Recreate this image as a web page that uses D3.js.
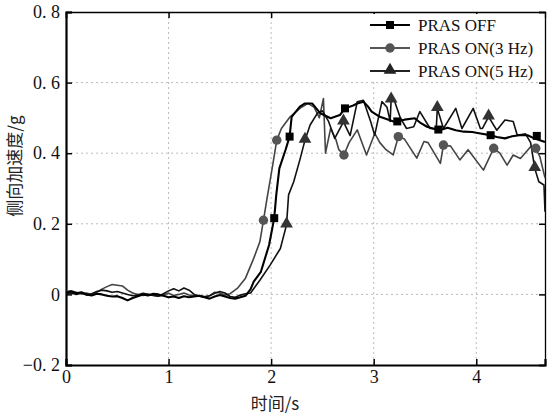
<!DOCTYPE html>
<html lang="zh">
<head>
<meta charset="utf-8">
<title>侧向加速度</title>
<script src="https://d3js.org/d3.v7.min.js"></script>
<style>
  body { margin: 0; background: #fff; }
  text { font-family: "Liberation Serif", "DejaVu Serif", serif; }
</style>
</head>
<body>
<script>
// axis settings
var xTicks = [0, 1, 2, 3, 4];
var yTicks = [-0.2, 0, 0.2, 0.4, 0.6, 0.8];
var yTickLabels = ["\u22120. 2", "0", "0. 2", "0. 4", "0. 6", "0. 8"];
var seriesNames = ["PRAS OFF", "PRAS ON(3 Hz)", "PRAS ON(5 Hz)"];

// PRAS OFF  [time s, accel g]
var offData = [[0,0.005],[0.05,0.008],[0.1,0.003],[0.15,0.006],[0.2,0.0],[0.25,-0.003],[0.3,0.002],[0.35,0.0],
  [0.4,-0.004],[0.45,-0.006],[0.5,-0.005],[0.55,-0.01],[0.6,-0.017],[0.65,-0.01],[0.7,-0.005],[0.75,0.0],
  [0.8,-0.003],[0.85,0.002],[0.9,0.0],[0.95,-0.004],[1.0,-0.008],[1.05,-0.006],[1.1,-0.01],[1.15,-0.005],
  [1.2,-0.008],[1.25,-0.006],[1.3,-0.004],[1.35,-0.008],[1.4,-0.012],[1.45,-0.006],[1.5,-0.002],[1.55,-0.006],
  [1.6,-0.01],[1.65,-0.012],[1.7,-0.008],[1.75,-0.004],[1.8,0.015],[1.83,0.036],[1.9,0.064],[1.98,0.14],
  [2.03,0.216],[2.05,0.282],[2.08,0.357],[2.14,0.409],[2.18,0.447],[2.2,0.503],[2.28,0.532],[2.33,0.541],
  [2.4,0.541],[2.48,0.513],[2.58,0.499],[2.67,0.508],[2.72,0.527],[2.8,0.535],[2.84,0.541],[2.9,0.546],
  [2.95,0.53],[2.98,0.518],[3.06,0.503],[3.11,0.498],[3.2,0.489],[3.3,0.495],[3.4,0.499],[3.46,0.485],
  [3.52,0.475],[3.6,0.468],[3.65,0.466],[3.72,0.472],[3.8,0.465],[3.88,0.461],[3.96,0.46],[4.04,0.456],
  [4.12,0.452],[4.2,0.446],[4.28,0.442],[4.35,0.448],[4.42,0.451],[4.5,0.451],[4.55,0.444],[4.62,0.437],[4.67,0.432]];
var offMarks = [[2.03,0.216],[2.18,0.447],[2.72,0.527],[3.23,0.49],[3.63,0.467],[4.14,0.451],[4.59,0.449]];

// PRAS ON (3 Hz)
var on3Data = [[0,0.008],[0.05,0.01],[0.1,0.006],[0.15,0.002],[0.2,0.004],[0.25,0.0],[0.3,0.006],[0.35,0.015],
  [0.4,0.022],[0.45,0.028],[0.5,0.026],[0.55,0.024],[0.6,0.012],[0.65,0.004],[0.7,0.0],[0.75,-0.003],
  [0.8,0.0],[0.85,-0.002],[0.9,-0.005],[0.95,-0.002],[1.0,0.003],[1.05,-0.003],[1.1,0.0],[1.15,0.004],
  [1.2,-0.002],[1.25,-0.004],[1.3,-0.003],[1.35,-0.006],[1.4,-0.004],[1.45,0.006],[1.5,0.004],[1.55,-0.002],
  [1.6,0.002],[1.67,0.017],[1.75,0.046],[1.83,0.102],[1.89,0.149],[1.925,0.21],[1.96,0.272],[2.01,0.357],
  [2.055,0.437],[2.1,0.47],[2.185,0.503],[2.28,0.527],[2.36,0.541],[2.42,0.53],[2.47,0.5],[2.51,0.555],
  [2.53,0.4],[2.58,0.47],[2.63,0.44],[2.66,0.41],[2.71,0.395],[2.76,0.43],[2.84,0.466],[2.93,0.395],
  [3.01,0.456],[3.06,0.43],[3.12,0.41],[3.19,0.395],[3.24,0.447],[3.3,0.44],[3.42,0.386],[3.49,0.433],
  [3.53,0.43],[3.65,0.371],[3.68,0.423],[3.75,0.42],[3.84,0.381],[3.92,0.41],[4.07,0.352],[4.17,0.414],
  [4.23,0.4],[4.3,0.366],[4.36,0.395],[4.43,0.385],[4.53,0.418],[4.58,0.414],[4.62,0.39],[4.67,0.33]];
var on3Marks = [[1.925,0.21],[2.055,0.437],[2.71,0.395],[3.24,0.447],[3.68,0.423],[4.17,0.414],[4.58,0.414]];

// PRAS ON (5 Hz)
var on5Data = [[0,0.002],[0.05,0.004],[0.1,0.0],[0.15,0.003],[0.2,-0.002],[0.25,0.002],[0.3,0.008],[0.35,0.012],
  [0.4,0.01],[0.45,0.006],[0.5,0.008],[0.55,0.004],[0.6,0.0],[0.65,-0.004],[0.7,-0.002],[0.75,0.003],
  [0.8,0.0],[0.85,-0.003],[0.9,-0.005],[0.95,0.002],[1.0,0.01],[1.05,0.016],[1.1,0.01],[1.15,0.018],
  [1.2,0.012],[1.25,0.0],[1.3,-0.005],[1.35,-0.008],[1.4,-0.004],[1.45,0.003],[1.5,0.008],[1.55,0.004],
  [1.6,-0.006],[1.65,-0.008],[1.7,-0.002],[1.75,0.002],[1.8,0.004],[1.84,0.02],[1.89,0.04],[1.99,0.083],
  [2.09,0.13],[2.15,0.197],[2.17,0.282],[2.22,0.319],[2.28,0.381],[2.33,0.437],[2.38,0.48],[2.45,0.513],
  [2.5,0.52],[2.56,0.49],[2.62,0.442],[2.705,0.489],[2.77,0.45],[2.84,0.546],[2.9,0.55],[2.97,0.49],
  [3.01,0.451],[3.08,0.546],[3.13,0.53],[3.16,0.49],[3.17,0.551],[3.2,0.55],[3.26,0.5],[3.32,0.47],
  [3.39,0.475],[3.45,0.518],[3.55,0.47],[3.61,0.47],[3.62,0.527],[3.68,0.47],[3.8,0.527],[3.86,0.47],
  [3.97,0.527],[4.04,0.47],[4.06,0.47],[4.12,0.503],[4.2,0.465],[4.28,0.494],[4.36,0.49],[4.4,0.451],
  [4.48,0.455],[4.53,0.43],[4.57,0.357],[4.61,0.319],[4.66,0.31],[4.67,0.234]];
var on5Marks = [[2.15,0.197],[2.33,0.437],[2.705,0.489],[3.17,0.551],[3.62,0.527],[4.12,0.503],[4.57,0.357]];

var w = 547, h = 416;
var pLeft = 66, pRight = 545, pTop = 12, pBottom = 365;

var svg = d3.select("body").append("svg").attr("width", w).attr("height", h);

var x = d3.scaleLinear().domain([0, 4.67]).range([pLeft, pRight]);
var y = d3.scaleLinear().domain([-0.2, 0.8]).range([pBottom, pTop]);

// grid
svg.append("g").selectAll("line").data(xTicks.slice(1)).enter().append("line")
  .attr("x1", d => x(d)).attr("x2", d => x(d)).attr("y1", pTop).attr("y2", pBottom)
  .attr("stroke", "#bbb").attr("stroke-dasharray", "2,3");
svg.append("g").selectAll("line").data(yTicks.slice(1, -1)).enter().append("line")
  .attr("y1", d => y(d)).attr("y2", d => y(d)).attr("x1", pLeft).attr("x2", pRight)
  .attr("stroke", "#bbb").attr("stroke-dasharray", "2,3");

// axes (ticks inward)
var xAxis = d3.axisBottom(x).tickValues(xTicks).tickSize(-6).tickFormat(d3.format("d"));
var yAxis = d3.axisLeft(y).tickValues(yTicks).tickSize(-6).tickFormat((d, i) => yTickLabels[i]);

var gx = svg.append("g").attr("transform", "translate(0," + pBottom + ")").call(xAxis);
var gy = svg.append("g").attr("transform", "translate(" + pLeft + ",0)").call(yAxis);
svg.append("g").attr("transform", "translate(0," + pTop + ")")
  .call(d3.axisTop(x).tickValues(xTicks).tickSize(-6).tickFormat(""));
svg.append("g").attr("transform", "translate(" + pRight + ",0)")
  .call(d3.axisRight(y).tickValues(yTicks).tickSize(-6).tickFormat(""));

svg.selectAll(".domain").attr("stroke", "#000").attr("stroke-width", 1.3);
gx.select(".domain").attr("stroke-width", 2.2);
gy.select(".domain").attr("stroke-width", 2.2);
svg.selectAll(".tick line").attr("stroke", "#000").attr("stroke-width", 1.5);
gx.selectAll("text").attr("font-size", 18).attr("dy", "0.85em").attr("fill", "#111");
gy.selectAll("text").attr("font-size", 18).attr("x", -6).attr("fill", "#111");

// series
var line = d3.line().x(d => x(d[0])).y(d => y(d[1]));
var plot = svg.append("g");

plot.append("path").datum(on3Data).attr("d", line)
  .attr("fill", "none").attr("stroke", "#444").attr("stroke-width", 1.6).attr("stroke-linejoin", "round");
plot.append("path").datum(on5Data).attr("d", line)
  .attr("fill", "none").attr("stroke", "#111").attr("stroke-width", 1.6).attr("stroke-linejoin", "round");
plot.append("path").datum(offData).attr("d", line)
  .attr("fill", "none").attr("stroke", "#000").attr("stroke-width", 2.1).attr("stroke-linejoin", "round");

var sq = d3.symbol().type(d3.symbolSquare).size(64);
var ci = d3.symbol().type(d3.symbolCircle).size(70);
var tr = d3.symbol().type(d3.symbolTriangle).size(70);

plot.selectAll(".m3").data(on3Marks).enter().append("path").attr("class", "m3")
  .attr("d", ci).attr("transform", d => "translate(" + x(d[0]) + "," + y(d[1]) + ")").attr("fill", "#555");
plot.selectAll(".m5").data(on5Marks).enter().append("path").attr("class", "m5")
  .attr("d", tr).attr("transform", d => "translate(" + x(d[0]) + "," + (y(d[1]) - 1) + ")").attr("fill", "#333");
plot.selectAll(".m0").data(offMarks).enter().append("path").attr("class", "m0")
  .attr("d", sq).attr("transform", d => "translate(" + x(d[0]) + "," + y(d[1]) + ")").attr("fill", "#000");

// legend
var lg = svg.append("g");
lg.append("rect").attr("x", 366).attr("y", 14).attr("width", 176).attr("height", 68).attr("fill", "#fff");
var legendColors = ["#000", "#555", "#222"];
var legendSym = [sq, ci, tr];
seriesNames.forEach(function(name, i) {
  var yy = 25 + i * 23;
  lg.append("line").attr("x1", 370).attr("x2", 410).attr("y1", yy).attr("y2", yy)
    .attr("stroke", legendColors[i]).attr("stroke-width", i == 0 ? 2.2 : 1.8);
  lg.append("path").attr("d", legendSym[i]).attr("transform", "translate(390," + (i == 2 ? yy - 1 : yy) + ")")
    .attr("fill", legendColors[i]);
  lg.append("text").attr("x", 418).attr("y", yy + 6).attr("font-size", 17).attr("fill", "#111").text(name);
});

// axis titles
svg.append("text").attr("x", 275).attr("y", 410).attr("text-anchor", "middle")
  .attr("font-size", 17).attr("fill", "#222")
  .style("font-family", "'Noto Sans CJK SC', serif").text("时间/s");
svg.append("text").attr("transform", "translate(21,166) rotate(-90)").attr("text-anchor", "middle")
  .attr("font-size", 17).attr("fill", "#222")
  .style("font-family", "'Noto Sans CJK SC', serif").text("侧向加速度/g");
</script>
</body>
</html>
